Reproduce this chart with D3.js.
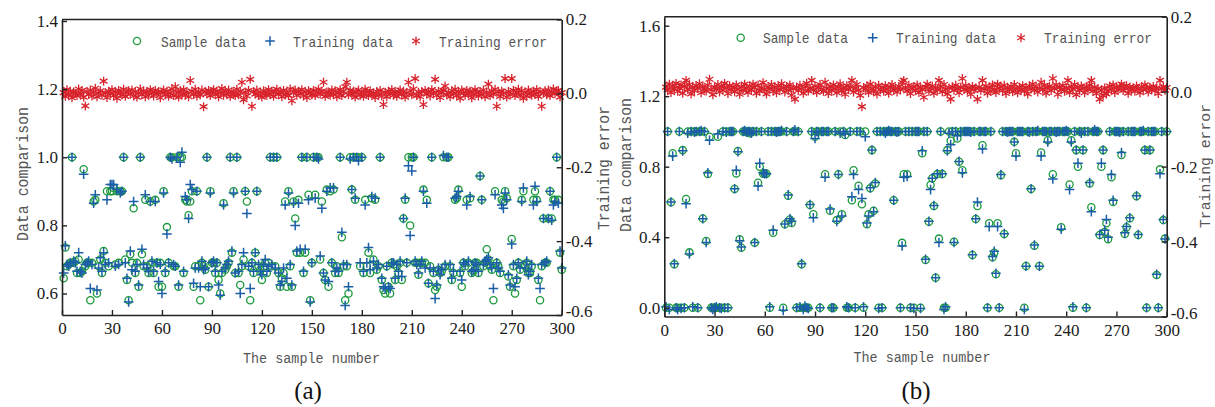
<!DOCTYPE html>
<html><head><meta charset="utf-8">
<script src="https://cdn.jsdelivr.net/npm/d3@7/dist/d3.min.js"></script>
<style>body{margin:0;background:#fff;}svg{display:block}</style>
</head><body>
<svg id="chart" width="1215" height="407"></svg>
<script>
// ---------------- data ----------------
const xTicks = [0,30,60,90,120,150,180,210,240,270,300];
const aLeftTicks = [0.6,0.8,1.0,1.2,1.4];
const bLeftTicks = [0.0,0.4,0.8,1.2,1.6];
const rightTicks = [-0.6,-0.4,-0.2,0.0,0.2];
const legendLabels = ["Sample data","Training data","Training error"];
const xTitle = "The sample number";
const yTitleLeft = "Data comparison";
const yTitleRight = "Training error";
const panelLabels = ["(a)","(b)"];

const aSample = [
0.645,0.735,0.68,0.685,0.69,1.0,0.69,0.695,0.66,0.70,
0.66,0.665,0.965,0.68,0.69,0.69,0.58,0.69,0.87,0.875,
0.60,0.68,0.70,0.66,0.725,0.69,0.90,0.68,0.90,0.90,
0.91,0.685,0.90,0.69,0.90,0.90,1.0,0.70,0.64,0.58,
0.715,0.69,0.85,0.66,0.69,0.62,1.0,0.715,0.68,0.875,
0.68,0.66,0.87,0.69,0.66,0.875,0.69,0.62,0.69,0.62,
0.90,0.66,0.795,0.69,1.0,1.0,0.68,0.68,1.0,0.62,
1.0,1.0,0.66,0.875,0.87,0.83,0.87,0.90,0.62,0.68,
0.90,0.68,0.58,0.69,0.68,0.67,1.0,0.62,0.90,0.69,
0.69,0.66,0.69,0.64,0.60,0.66,0.865,0.67,0.68,0.69,
1.0,0.72,0.90,0.66,1.0,0.66,0.625,0.68,0.70,0.90,
0.87,0.68,0.58,0.69,0.66,0.72,0.90,0.68,0.67,0.64,
0.68,0.69,0.66,0.69,1.0,0.68,1.0,0.68,1.0,0.66,
0.62,0.645,0.66,0.87,0.62,0.90,0.68,0.62,0.87,0.82,
0.72,0.875,0.72,1.0,0.66,0.72,1.0,0.89,0.58,0.69,
1.0,0.89,1.0,1.0,0.70,0.87,0.66,0.64,0.905,0.62,
0.90,0.69,0.905,0.66,0.68,0.66,1.0,0.765,0.68,0.58,
0.68,0.60,1.0,0.905,1.0,0.875,1.0,1.0,0.68,1.0,
0.66,0.875,0.68,0.72,0.66,0.88,0.70,0.875,0.67,0.68,
1.0,0.64,0.61,0.60,0.68,0.62,0.60,0.69,0.685,0.64,
0.68,0.66,0.69,0.64,0.82,0.875,0.69,1.0,0.80,1.0,
1.0,0.69,0.69,0.655,0.69,0.69,0.905,0.69,0.875,0.63,
0.68,1.0,0.66,0.61,0.62,0.67,0.66,0.665,1.0,0.68,
1.0,1.0,0.68,0.64,0.66,0.875,0.88,0.905,0.66,0.62,
0.69,0.68,0.875,0.69,0.88,0.66,0.665,0.69,0.69,0.66,
0.945,0.875,0.68,0.69,0.73,0.70,0.68,0.67,0.58,0.90,
0.69,0.68,0.66,0.875,0.87,0.90,0.88,0.65,0.62,0.76,
0.68,0.60,0.64,0.69,0.67,0.875,0.90,0.68,0.69,0.66,
0.66,0.68,0.875,0.90,0.875,0.64,0.58,0.68,0.82,0.69,
0.69,0.82,0.90,0.82,0.875,0.875,1.0,0.875,0.72,0.67];

const aTraining = [
0.66,0.74,0.685,0.68,0.69,1.0,0.695,0.69,0.665,0.72,
0.665,0.66,0.95,0.685,0.69,0.695,0.615,0.685,0.865,0.89,
0.61,0.675,0.705,0.665,0.72,0.685,0.875,0.69,0.92,0.92,
0.92,0.68,0.905,0.685,0.895,0.90,1.0,0.69,0.645,0.575,
0.725,0.67,0.87,0.665,0.685,0.625,1.0,0.73,0.685,0.89,
0.675,0.665,0.87,0.695,0.665,0.87,0.69,0.635,0.685,0.60,
0.895,0.665,0.775,0.69,1.0,0.995,0.685,0.68,1.0,0.625,
0.985,1.015,0.665,0.885,0.875,0.82,0.92,0.905,0.63,0.675,
0.90,0.675,0.62,0.695,0.67,0.675,1.0,0.62,0.895,0.69,
0.695,0.665,0.69,0.625,0.595,0.665,0.86,0.675,0.685,0.695,
1.0,0.725,0.895,0.66,1.0,0.665,0.60,0.685,0.72,0.90,
0.835,0.68,0.615,0.69,0.665,0.72,0.90,0.685,0.665,0.655,
0.685,0.70,0.665,0.68,1.0,0.685,1.0,0.675,1.0,0.66,
0.625,0.635,0.675,0.86,0.645,0.895,0.685,0.625,0.865,0.80,
0.725,0.865,0.73,1.0,0.665,0.73,1.0,0.875,0.575,0.69,
1.0,0.88,1.0,0.995,0.71,0.85,0.66,0.64,0.90,0.635,
0.91,0.69,0.91,0.665,0.675,0.665,1.0,0.78,0.685,0.565,
0.685,0.62,0.995,0.905,1.0,0.88,1.0,0.99,0.69,1.0,
0.665,0.86,0.69,0.735,0.67,0.885,0.695,0.88,0.675,0.685,
1.0,0.645,0.62,0.615,0.68,0.62,0.615,0.69,0.69,0.645,
0.685,0.665,0.695,0.65,0.82,0.88,0.69,0.975,0.77,0.96,
1.0,0.695,0.685,0.66,0.685,0.695,0.90,0.675,0.865,0.63,
0.675,1.0,0.665,0.585,0.625,0.675,0.655,0.67,1.005,0.685,
1.0,1.0,0.685,0.645,0.665,0.88,0.885,0.90,0.665,0.64,
0.69,0.685,0.86,0.695,0.885,0.665,0.67,0.69,0.685,0.665,
0.945,0.875,0.685,0.695,0.70,0.705,0.685,0.675,0.615,0.89,
0.69,0.675,0.665,0.86,0.85,0.895,0.875,0.655,0.625,0.745,
0.685,0.62,0.645,0.69,0.675,0.87,0.91,0.675,0.695,0.655,
0.665,0.685,0.86,0.915,0.87,0.645,0.615,0.685,0.82,0.69,
0.695,0.82,0.90,0.815,0.86,0.87,1.0,0.865,0.725,0.675];

const aError = [
0.002,-0.008,0.010,-0.004,0.006,-0.012,0.004,0.000,-0.006,0.012,
-0.002,0.008,-0.010,-0.034,0.005,-0.003,0.009,-0.007,0.003,0.014,
-0.009,0.001,0.007,-0.005,0.033,0.002,-0.011,0.006,-0.001,0.010,
-0.006,0.004,-0.013,0.008,0.000,-0.004,0.011,-0.008,0.003,0.007,
-0.002,0.009,-0.007,0.005,-0.010,0.001,0.012,-0.003,0.006,-0.009,
0.004,-0.005,0.010,0.002,-0.007,0.008,-0.001,0.005,-0.012,0.003,
0.009,-0.004,0.006,-0.008,0.001,0.012,-0.006,0.018,0.004,-0.010,
0.007,-0.002,0.010,-0.005,0.003,-0.009,0.035,0.006,-0.003,0.011,
-0.007,0.002,-0.004,0.009,-0.036,0.005,-0.001,0.008,-0.006,0.004,
0.010,-0.003,0.006,-0.009,0.002,0.013,-0.005,0.007,-0.002,0.009,
-0.008,0.004,0.001,-0.006,0.011,-0.004,0.006,0.030,-0.017,0.003,
-0.007,0.008,0.038,-0.035,0.005,-0.002,0.009,-0.006,0.003,-0.010,
0.007,0.000,-0.005,0.010,-0.003,0.006,-0.008,0.004,0.011,-0.002,
0.005,-0.009,0.008,-0.004,0.002,-0.006,0.012,-0.020,0.003,0.009,
-0.005,0.006,-0.001,0.010,-0.007,0.004,-0.011,0.007,0.001,-0.004,
0.008,-0.006,0.003,0.011,-0.002,0.006,0.030,-0.008,0.004,0.001,
-0.005,0.009,-0.003,0.007,-0.009,0.002,0.010,-0.006,0.005,0.018,
0.030,-0.004,0.008,-0.001,0.006,-0.010,0.003,0.009,-0.005,0.002,
-0.008,0.011,0.004,-0.006,0.007,-0.002,0.000,-0.011,0.005,-0.004,
0.008,-0.007,-0.030,0.003,-0.009,0.006,-0.001,0.010,-0.005,0.002,
-0.008,0.004,0.009,-0.003,0.006,-0.010,0.001,0.030,0.007,-0.004,
0.012,0.040,-0.006,0.003,-0.009,0.005,-0.030,0.008,-0.002,0.004,
-0.007,0.010,0.001,0.038,-0.005,0.006,-0.011,0.003,0.008,0.020,
-0.004,0.002,-0.009,0.007,-0.001,0.011,-0.006,0.004,-0.013,0.009,
0.001,-0.005,0.008,-0.002,0.006,-0.012,-0.003,0.010,0.002,-0.007,
0.005,-0.004,0.009,-0.009,0.003,0.025,-0.006,0.007,-0.002,0.011,
-0.035,0.004,-0.008,0.006,0.001,0.040,-0.010,0.005,-0.003,0.040,
0.008,-0.006,0.002,0.011,-0.004,0.007,-0.013,0.003,-0.007,0.009,
0.000,-0.005,0.006,-0.002,0.010,-0.008,0.004,-0.035,0.001,0.007,
-0.004,0.009,-0.006,0.003,0.012,-0.001,0.006,0.008,-0.010,0.002];

const bSample = [
0.0,1.0,0.0,0.598,0.876,0.246,0.0,0.0,1.0,0.0,
0.894,0.0,0.617,1.0,0.314,1.0,0.0,1.0,1.0,0.0,
1.0,1.0,0.506,1.0,0.378,0.758,0.97,0.0,0.0,0.0,
0.0,0.97,0.0,0.0,1.0,0.0,1.0,0.0,1.0,1.0,
1.0,0.673,0.762,0.889,0.388,0.340,1.0,1.0,1.0,1.0,
0.99,1.0,1.0,0.368,1.0,0.709,0.80,1.0,0.76,0.76,
0.76,1.0,0.0,1.0,0.425,1.0,1.0,1.0,1.0,1.0,
0.0,0.473,1.0,0.635,0.50,0.48,1.0,1.0,0.0,1.0,
0.0,0.246,0.0,0.0,0.0,0.0,0.583,1.0,0.53,0.97,
1.0,1.0,0.0,1.0,1.0,0.757,1.0,1.0,0.55,0.0,
0.0,1.0,0.497,0.757,1.0,0.53,1.0,0.98,0.0,0.0,
1.0,0.61,0.78,0.0,1.0,0.692,1.0,0.587,0.0,1.0,
0.473,0.53,0.677,0.894,0.55,0.705,1.0,0.0,1.0,0.0,
1.0,1.0,1.0,1.0,1.0,1.0,0.61,1.0,1.0,1.0,
0.0,0.368,0.757,1.0,0.757,1.0,0.0,1.0,0.0,1.0,
1.0,1.0,0.0,0.876,1.0,0.27,1.0,0.488,0.696,0.734,
0.577,0.170,0.758,0.392,1.0,0.758,0.0,0.0,0.894,1.0,
0.947,1.0,0.374,1.0,0.96,0.828,1.0,0.78,1.0,1.0,
1.0,1.0,1.0,0.299,1.0,0.503,0.577,1.0,1.0,0.922,
1.0,1.0,0.0,0.479,1.0,0.286,0.312,0.19,0.479,0.0,
0.752,1.0,0.418,1.0,1.0,1.0,1.0,1.0,0.941,0.876,
1.0,1.0,1.0,1.0,0.0,0.237,1.0,1.0,0.673,1.0,
0.352,1.0,1.0,0.237,0.881,1.0,1.0,1.0,0.95,1.0,
1.0,0.757,1.0,1.0,1.0,1.0,0.456,1.0,1.0,1.0,
1.0,0.699,0.95,0.0,1.0,0.894,0.80,1.0,1.0,0.894,
1.0,0.0,1.0,0.705,0.57,1.0,1.0,1.0,1.0,0.413,
0.80,0.894,0.43,0.479,0.389,1.0,0.74,0.60,1.0,1.0,
1.0,1.0,0.866,1.0,0.418,0.456,1.0,0.508,1.0,1.0,
1.0,0.632,0.413,1.0,1.0,1.0,0.894,0.0,1.0,0.894,
1.0,1.0,1.0,0.185,0.0,0.785,1.0,0.497,0.392,1.0];

const bTraining = [
0.005,1.0,-0.01,0.60,0.86,0.25,0.0,-0.01,1.0,-0.005,
0.89,0.0,0.59,0.99,0.305,1.0,0.005,0.995,1.0,0.0,
1.0,1.005,0.505,1.0,0.37,0.765,0.95,0.0,-0.01,0.0,
0.005,0.985,0.0,-0.005,1.0,0.0,0.995,0.0,1.0,1.0,
1.0,0.675,0.78,0.885,0.38,0.345,1.0,1.005,0.995,1.0,
1.0,0.99,1.0,0.37,1.0,0.69,0.82,1.0,0.765,0.76,
0.76,1.0,0.005,1.0,0.44,1.0,0.995,1.0,1.0,1.005,
-0.015,0.475,1.0,0.64,0.505,0.49,1.0,1.01,0.0,1.0,
0.005,0.25,-0.01,0.01,0.0,-0.005,0.585,1.0,0.51,0.96,
1.0,0.995,0.0,1.0,1.0,0.74,1.0,1.0,0.56,0.0,
0.0,1.0,0.49,0.755,0.99,0.52,1.0,0.985,0.005,0.0,
1.0,0.63,0.755,0.0,1.0,0.67,1.0,0.62,0.005,0.97,
0.48,0.52,0.68,0.895,0.545,0.71,1.0,-0.005,1.0,0.0,
1.0,0.99,1.0,1.005,1.0,1.0,0.61,1.0,0.995,1.0,
0.0,0.35,0.74,1.0,0.745,1.0,0.0,1.0,-0.005,1.0,
1.0,1.0,-0.005,0.89,1.0,0.275,1.0,0.49,0.67,0.735,
0.58,0.17,0.76,0.37,1.0,0.76,-0.01,0.005,0.89,0.99,
0.925,1.0,0.37,1.0,0.975,0.83,1.0,0.765,1.0,1.0,
1.0,1.0,0.995,0.30,1.0,0.505,0.60,1.0,1.0,0.90,
1.0,1.0,0.0,0.46,1.0,0.29,0.32,0.195,0.46,0.0,
0.755,1.0,0.42,1.0,0.995,1.0,1.0,1.0,0.94,0.86,
1.0,1.0,1.0,1.0,-0.01,0.235,1.0,0.995,0.675,1.0,
0.355,1.0,1.005,0.235,0.86,1.0,1.0,1.0,0.94,1.0,
1.0,0.73,1.0,0.995,1.0,1.0,0.445,1.0,1.0,1.005,
1.0,0.67,0.94,0.005,1.0,0.895,0.82,1.0,0.99,0.895,
1.0,0.0,1.0,0.71,0.545,1.0,1.01,1.0,1.0,0.415,
0.82,0.895,0.44,0.50,0.40,1.0,0.755,0.61,1.0,1.0,
1.0,0.995,0.88,1.0,0.425,0.46,1.0,0.51,1.0,1.0,
1.0,0.635,0.415,1.0,1.0,1.005,0.895,0.0,1.0,0.895,
1.0,1.0,1.0,0.19,0.0,0.76,1.0,0.50,0.39,1.0];

const bError = [
0.012,0.004,0.020,-0.002,0.015,0.008,0.022,0.001,0.010,0.018,
-0.004,0.014,0.030,0.006,0.019,-0.006,0.011,0.003,0.016,0.009,
0.021,-0.003,0.013,0.007,0.002,0.017,0.033,0.005,-0.008,0.012,
0.008,0.019,-0.001,0.014,0.004,0.022,0.010,-0.005,0.016,0.006,
0.012,0.000,0.018,0.007,-0.007,0.013,0.003,0.020,0.009,-0.002,
0.015,0.006,0.020,0.011,-0.004,0.017,0.002,0.009,0.024,0.005,
-0.006,0.013,0.008,0.019,0.001,0.011,-0.003,0.016,0.006,0.021,
0.010,-0.001,0.014,0.004,0.018,-0.009,0.008,-0.020,0.012,0.003,
0.017,0.007,-0.004,0.013,0.022,0.002,0.010,0.030,0.005,0.015,
-0.002,0.011,0.019,0.006,0.001,0.025,0.009,-0.005,0.014,0.004,
0.018,0.008,-0.003,0.012,0.021,0.002,0.010,-0.007,0.016,0.006,
0.013,0.030,-0.001,0.009,0.019,0.004,-0.010,-0.040,0.011,0.007,
0.015,-0.002,0.020,0.008,0.003,0.013,-0.006,0.017,0.005,0.010,
0.001,0.016,0.007,-0.004,0.012,0.019,0.004,0.009,-0.001,0.014,
0.006,0.025,0.030,0.011,0.002,0.017,-0.005,0.008,0.013,0.003,
0.018,-0.002,0.010,0.006,-0.015,0.012,0.020,0.001,0.009,0.015,
-0.004,0.011,0.005,0.030,0.014,0.000,0.019,0.007,-0.006,0.010,
-0.020,0.013,0.004,0.017,0.008,-0.003,0.012,0.035,0.006,0.016,
0.002,0.010,-0.007,0.014,0.005,0.009,-0.020,0.012,0.003,0.030,
0.007,0.015,-0.004,0.011,0.001,0.018,0.006,-0.002,0.020,0.009,
0.013,0.003,0.017,-0.005,0.010,0.006,0.014,0.000,0.019,0.008,
-0.003,0.012,0.005,0.016,0.002,0.011,-0.006,0.015,0.007,0.020,
0.004,0.013,-0.001,0.009,0.025,0.006,0.017,-0.004,0.011,0.014,
0.003,0.035,0.008,0.018,-0.007,0.012,0.005,0.016,0.001,0.010,
0.030,-0.002,0.014,0.007,0.019,-0.008,0.011,0.004,0.015,0.009,
-0.003,0.013,0.006,0.017,0.030,0.002,0.012,-0.005,0.008,-0.020,
0.004,-0.010,0.010,-0.006,0.001,0.015,0.007,0.018,-0.002,0.011,
0.005,0.014,0.020,0.003,0.009,0.016,-0.004,0.012,0.006,0.010,
0.001,0.015,0.008,-0.003,0.013,0.005,0.018,0.009,-0.001,0.012,
0.006,0.014,0.003,0.010,-0.005,0.030,0.008,0.013,0.004,0.011];

// ---------------- drawing ----------------
const COL_S = "#1c9a3c", COL_T = "#1a5ea8", COL_E = "#d8232c";
const svg = d3.select("#chart");
const fmt = d => d.toFixed(1);
const mono = "'Liberation Mono','DejaVu Sans Mono',monospace";
const serif = "'Liberation Serif','Times New Roman',serif";

function plusPath(x,y,h){return `M${x-h},${y}H${x+h}M${x},${y-h}V${y+h}`;}
function starPath(x,y,h){
  const dx = h*Math.cos(Math.PI/6), dy = h*Math.sin(Math.PI/6);
  return `M${x},${y-h}V${y+h}M${x-dx},${y-dy}L${x+dx},${y+dy}M${x-dx},${y+dy}L${x+dx},${y-dy}`;
}
function fitText(sel,len){
  return sel.attr("textLength",len).attr("lengthAdjust","spacingAndGlyphs");
}

function panel(cfg){
  const g = svg.append("g");
  const x = d3.scaleLinear().domain([0,300]).range([cfg.x0,cfg.x1]);
  const yL = d3.scaleLinear().domain(cfg.leftDomain).range([cfg.yBot,cfg.yTop]);
  const yR = d3.scaleLinear().domain([-0.6,0.2]).range([cfg.yBot,cfg.yTop]);
  const idx = d3.range(300);

  // series
  g.append("g").selectAll("circle").data(idx).join("circle")
    .attr("cx",i=>x(i+1)).attr("cy",i=>yL(cfg.sample[i])).attr("r",3.6)
    .attr("fill","none").attr("stroke",COL_S).attr("stroke-width",1.3);
  g.append("g").selectAll("path").data(idx).join("path")
    .attr("d",i=>plusPath(x(i+1),yL(cfg.training[i]),4.8))
    .attr("stroke",COL_T).attr("stroke-width",1.5).attr("fill","none");
  g.append("g").selectAll("path").data(idx).join("path")
    .attr("d",i=>starPath(x(i+1),yR(cfg.error[i]),4.5))
    .attr("stroke",COL_E).attr("stroke-width",1.3).attr("fill","none");

  // frame top
  g.append("line").attr("x1",cfg.x0).attr("x2",cfg.x1).attr("y1",cfg.yTop).attr("y2",cfg.yTop)
    .attr("stroke","#222").attr("stroke-width",1.6);

  const styleAxis = (sel)=>{
    sel.select(".domain").attr("stroke","#222").attr("stroke-width",1.6);
    sel.selectAll(".tick line").attr("stroke","#222").attr("stroke-width",1.4);
    sel.selectAll(".tick text").attr("font-family",serif).attr("font-size",17).attr("fill","#1a1a1a");
  };
  g.append("g").attr("transform",`translate(0,${cfg.yBot})`)
    .call(d3.axisBottom(x).tickValues(xTicks).tickSizeInner(-5).tickSizeOuter(0).tickPadding(7).tickFormat(d3.format("d")))
    .call(styleAxis);
  g.append("g").attr("transform",`translate(${cfg.x0},0)`)
    .call(d3.axisLeft(yL).tickValues(cfg.leftTicks).tickSizeInner(-5).tickSizeOuter(0).tickPadding(4).tickFormat(fmt))
    .call(styleAxis);
  const ra = g.append("g").attr("transform",`translate(${cfg.x1},0)`)
    .call(d3.axisRight(yR).tickValues(rightTicks).tickSizeInner(-5).tickSizeOuter(0).tickPadding(4).tickFormat(fmt))
    .call(styleAxis);
  // lift the lowest right label a touch so it clears the x label "300"
  ra.selectAll(".tick text").filter(d=>d===-0.6).attr("dy","0.1em");

  // titles
  fitText(g.append("text").attr("x",cfg.xTitleX).attr("y",cfg.xTitleY).attr("text-anchor","middle")
    .attr("font-family",mono).attr("font-size",15.5).attr("fill","#555").text(xTitle),137);
  fitText(g.append("text").attr("transform",`translate(${cfg.yLTitleX},${cfg.yLTitleY}) rotate(-90)`)
    .attr("text-anchor","middle").attr("font-family",mono).attr("font-size",16).attr("fill","#555").text(yTitleLeft),134);
  fitText(g.append("text").attr("transform",`translate(${cfg.yRTitleX},${cfg.yRTitleY}) rotate(-90)`)
    .attr("text-anchor","middle").attr("font-family",mono).attr("font-size",cfg.yRTitleSize).attr("fill","#555").text(yTitleRight),124);
  g.append("text").attr("x",cfg.labelX).attr("y",cfg.labelY).attr("text-anchor","middle")
    .attr("font-family",serif).attr("font-size",25).attr("fill","#111").text(cfg.label);

  // legend
  const L = cfg.legend, ly = L.y;
  g.append("circle").attr("cx",L.m[0]).attr("cy",ly).attr("r",3.6).attr("fill","none").attr("stroke",COL_S).attr("stroke-width",1.3);
  g.append("path").attr("d",plusPath(L.m[1],ly,4.8)).attr("stroke",COL_T).attr("stroke-width",1.5);
  g.append("path").attr("d",starPath(L.m[2],ly,4.5)).attr("stroke",COL_E).attr("stroke-width",1.3);
  const lens = [85,100,108];
  legendLabels.forEach((t,k)=>{
    fitText(g.append("text").attr("x",L.t[k]).attr("y",ly+5.5).attr("font-family",mono).attr("font-size",15)
      .attr("fill","#555").text(t),lens[k]);
  });
}

panel({x0:62,x1:561.7,yTop:19.5,yBot:315,leftDomain:[0.5369,1.4044],leftTicks:aLeftTicks,
  sample:aSample,training:aTraining,error:aError,
  xTitleX:311.5,xTitleY:363,yLTitleX:28,yLTitleY:174,yRTitleX:609,yRTitleY:168,yRTitleSize:16,
  label:panelLabels[0],labelX:308,labelY:399,
  legend:{y:41,m:[137,270,416],t:[161,293,439]}});
panel({x0:664.3,x1:1166.7,yTop:16.7,yBot:316.5,leftDomain:[-0.050,1.651],leftTicks:bLeftTicks,
  sample:bSample,training:bTraining,error:bError,
  xTitleX:922,xTitleY:362,yLTitleX:630.5,yLTitleY:165,yRTitleX:1210,yRTitleY:166,yRTitleSize:15,
  label:panelLabels[1],labelX:916,labelY:399,
  legend:{y:37.7,m:[740.7,872.7,1021],t:[763,896,1044]}});
</script>
</body></html>
